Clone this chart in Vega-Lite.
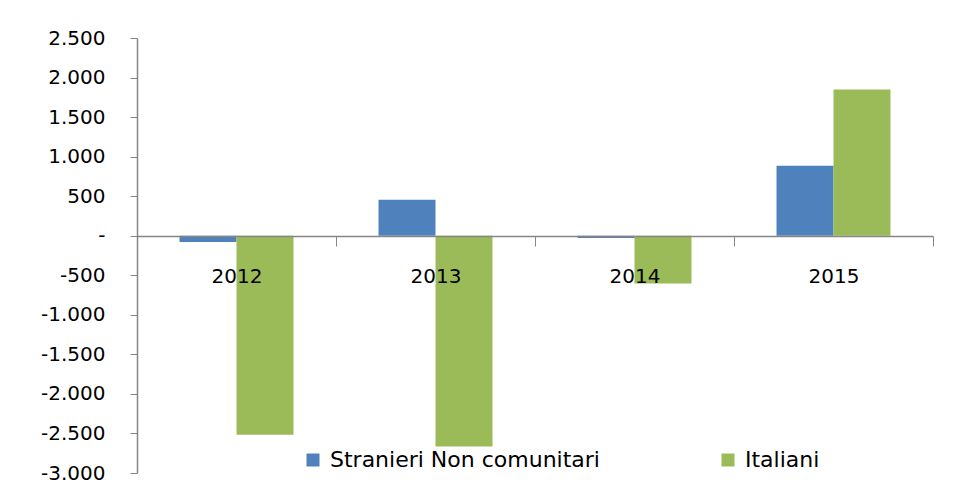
{
  "$schema": "https://vega.github.io/schema/vega-lite/v6.json",
  "width": 796,
  "height": 435,
  "autosize": "none",
  "padding": {"left": 137, "top": 38, "right": 25, "bottom": 24},
  "background": "white",
  "config": {
    "view": {"stroke": null},
    "font": "DejaVu Sans",
    "axis": {"labelFont": "DejaVu Sans", "labelColor": "#000000", "domainColor": "#868686", "tickColor": "#868686", "grid": false, "title": null}
  },
  "data": {
    "values": [
      {"anno": "2012", "serie": "Stranieri Non comunitari", "valore": -80},
      {"anno": "2012", "serie": "Italiani", "valore": -2515},
      {"anno": "2013", "serie": "Stranieri Non comunitari", "valore": 455},
      {"anno": "2013", "serie": "Italiani", "valore": -2665},
      {"anno": "2014", "serie": "Stranieri Non comunitari", "valore": -30},
      {"anno": "2014", "serie": "Italiani", "valore": -605},
      {"anno": "2015", "serie": "Stranieri Non comunitari", "valore": 885},
      {"anno": "2015", "serie": "Italiani", "valore": 1850}
    ]
  },
  "mark": {"type": "bar"},
  "encoding": {
    "x": {
      "field": "anno",
      "type": "nominal",
      "scale": {"paddingInner": 0, "paddingOuter": 0},
      "axis": {
        "offset": -237,
        "zindex": 1,
        "tickBand": "extent",
        "tickSize": 10,
        "labelPadding": 20,
        "labelAngle": 0,
        "labelFontSize": 20,
        "domainWidth": 1.5
      }
    },
    "xOffset": {
      "field": "serie",
      "type": "nominal",
      "sort": ["Stranieri Non comunitari", "Italiani"],
      "scale": {"paddingInner": 0, "paddingOuter": 0.746}
    },
    "y": {
      "field": "valore",
      "type": "quantitative",
      "scale": {"domain": [-3000, 2500], "nice": false, "zero": false},
      "axis": {
        "values": [-3000, -2500, -2000, -1500, -1000, -500, 0, 500, 1000, 1500, 2000, 2500],
        "labelExpr": "datum.value == 0 ? '-' : replace(replace(format(datum.value, ','), ',', '.'), '\u2212', '-')",
        "tickSize": 7,
        "labelPadding": 25,
        "labelFontSize": 20,
        "domainWidth": 1.5
      }
    },
    "color": {
      "field": "serie",
      "type": "nominal",
      "sort": ["Stranieri Non comunitari", "Italiani"],
      "scale": {"domain": ["Stranieri Non comunitari", "Italiani"], "range": ["#4F81BD", "#9BBB59"]},
      "legend": {
        "title": null,
        "orient": "none",
        "legendX": 165,
        "legendY": 411,
        "direction": "horizontal",
        "symbolType": "square",
        "symbolSize": 169,
        "symbolStrokeWidth": 0,
        "labelFontSize": 22,
        "labelOffset": 6,
        "labelFont": "DejaVu Sans",
        "labelColor": "#000000",
        "columnPadding": 117,
        "labelLimit": 400
      }
    }
  }
}
